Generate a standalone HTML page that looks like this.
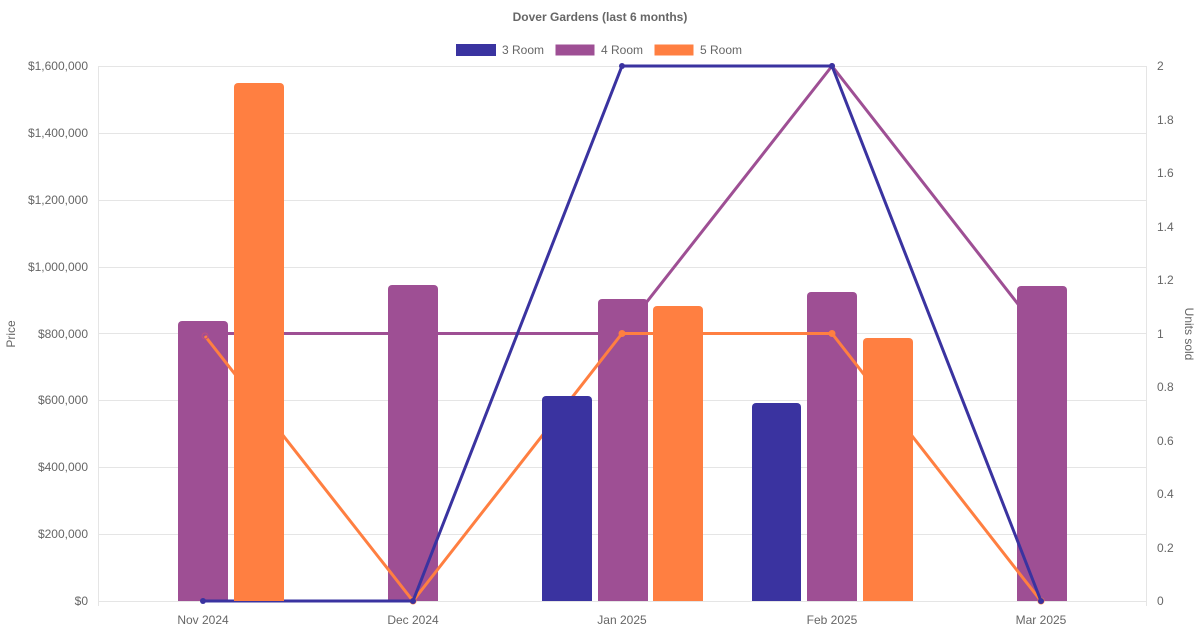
<!DOCTYPE html>
<html><head><style>body{margin:0;background:#fff}svg{display:block}text{font-family:"Liberation Sans",sans-serif;fill:#666;font-size:12px}</style></head><body>
<svg width="1200" height="630" xmlns="http://www.w3.org/2000/svg">
<text x="600" y="21" text-anchor="middle" style="font-weight:bold">Dover Gardens (last 6 months)</text>
<rect x="456.5" y="44.5" width="39" height="11" fill="#3a33a0" stroke="#3a33a0"/><text x="502" y="54">3 Room</text>
<rect x="555.5" y="44.5" width="39" height="11" fill="#9e4f94"/><text x="601" y="54">4 Room</text>
<rect x="654.5" y="44.5" width="39" height="11" fill="#ff7f41"/><text x="700" y="54">5 Room</text>
<g stroke="#e5e5e5" stroke-width="1">
<line x1="98" y1="66.5" x2="1146" y2="66.5"/><line x1="98" y1="133.5" x2="1146" y2="133.5"/><line x1="98" y1="200.5" x2="1146" y2="200.5"/><line x1="98" y1="267.5" x2="1146" y2="267.5"/><line x1="98" y1="333.5" x2="1146" y2="333.5"/><line x1="98" y1="400.5" x2="1146" y2="400.5"/><line x1="98" y1="467.5" x2="1146" y2="467.5"/><line x1="98" y1="534.5" x2="1146" y2="534.5"/><line x1="98" y1="601.5" x2="1146" y2="601.5"/>
<line x1="98.5" y1="66" x2="98.5" y2="606"/><line x1="1146.5" y1="66" x2="1146.5" y2="606"/>
</g>
<g text-anchor="end">
<text x="88" y="70">$1,600,000</text><text x="88" y="137">$1,400,000</text><text x="88" y="204">$1,200,000</text><text x="88" y="271">$1,000,000</text><text x="88" y="338">$800,000</text><text x="88" y="404">$600,000</text><text x="88" y="471">$400,000</text><text x="88" y="538">$200,000</text><text x="88" y="605">$0</text>
</g>
<g>
<text x="1157" y="70">2</text><text x="1157" y="124">1.8</text><text x="1157" y="177">1.6</text><text x="1157" y="231">1.4</text><text x="1157" y="284">1.2</text><text x="1157" y="338">1</text><text x="1157" y="391">0.8</text><text x="1157" y="445">0.6</text><text x="1157" y="498">0.4</text><text x="1157" y="552">0.2</text><text x="1157" y="605">0</text>
</g>
<g text-anchor="middle">
<text x="203" y="624">Nov 2024</text><text x="413" y="624">Dec 2024</text><text x="622" y="624">Jan 2025</text><text x="832" y="624">Feb 2025</text><text x="1041" y="624">Mar 2025</text>
</g>
<text transform="translate(15,334) rotate(-90)" text-anchor="middle">Price</text>
<text transform="translate(1185,334) rotate(90)" text-anchor="middle">Units sold</text>
<!-- purple line -->
<polyline points="203,333.5 413,333.5 622,333.5 832,66 1041,333.5" fill="none" stroke="#9e4f94" stroke-width="3"/>
<g fill="#9e4f94"><circle cx="832" cy="66" r="3"/></g>
<!-- purple bars -->
<g fill="#9e4f94">
<path d="M178,601V325a4,4 0 0 1 4,-4h42a4,4 0 0 1 4,4V601z"/>
<path d="M388,601V289a4,4 0 0 1 4,-4h42a4,4 0 0 1 4,4V601z"/>
<path d="M598,601V303a4,4 0 0 1 4,-4h42a4,4 0 0 1 4,4V601z"/>
<path d="M807,601V296a4,4 0 0 1 4,-4h42a4,4 0 0 1 4,4V601z"/>
<path d="M1017,601V290a4,4 0 0 1 4,-4h42a4,4 0 0 1 4,4V601z"/>
</g>
<!-- orange line -->
<polyline points="205,336 413,601 622,333.5 832,333.5 1041,601" fill="none" stroke="#ff7f41" stroke-width="3"/>
<g fill="#ff7f41" stroke="#ff7f41"><circle cx="205" cy="336" r="3" fill="none" stroke="#c05080"/><circle cx="413" cy="601" r="3"/><circle cx="622" cy="333.5" r="3"/><circle cx="832" cy="333.5" r="3"/><circle cx="1041" cy="601" r="3"/></g>
<!-- blue line -->
<polyline points="203,601 413,601 622,66 832,66 1041,601" fill="none" stroke="#3a33a0" stroke-width="3"/>
<g fill="#3a33a0"><circle cx="203" cy="601" r="3"/><circle cx="413" cy="601" r="3"/><circle cx="622" cy="66" r="3"/><circle cx="832" cy="66" r="3"/><circle cx="1041" cy="601" r="3"/></g>
<!-- blue bars -->
<g fill="#3a33a0">
<path d="M542,601V400a4,4 0 0 1 4,-4h42a4,4 0 0 1 4,4V601z"/>
<path d="M752,601V407a4,4 0 0 1 4,-4h41a4,4 0 0 1 4,4V601z"/>
</g>
<!-- orange bars -->
<g fill="#ff7f41">
<path d="M234,601V87a4,4 0 0 1 4,-4h42a4,4 0 0 1 4,4V601z"/>
<path d="M653,601V310a4,4 0 0 1 4,-4h42a4,4 0 0 1 4,4V601z"/>
<path d="M863,601V342a4,4 0 0 1 4,-4h42a4,4 0 0 1 4,4V601z"/>
</g>
</svg>
</body></html>
